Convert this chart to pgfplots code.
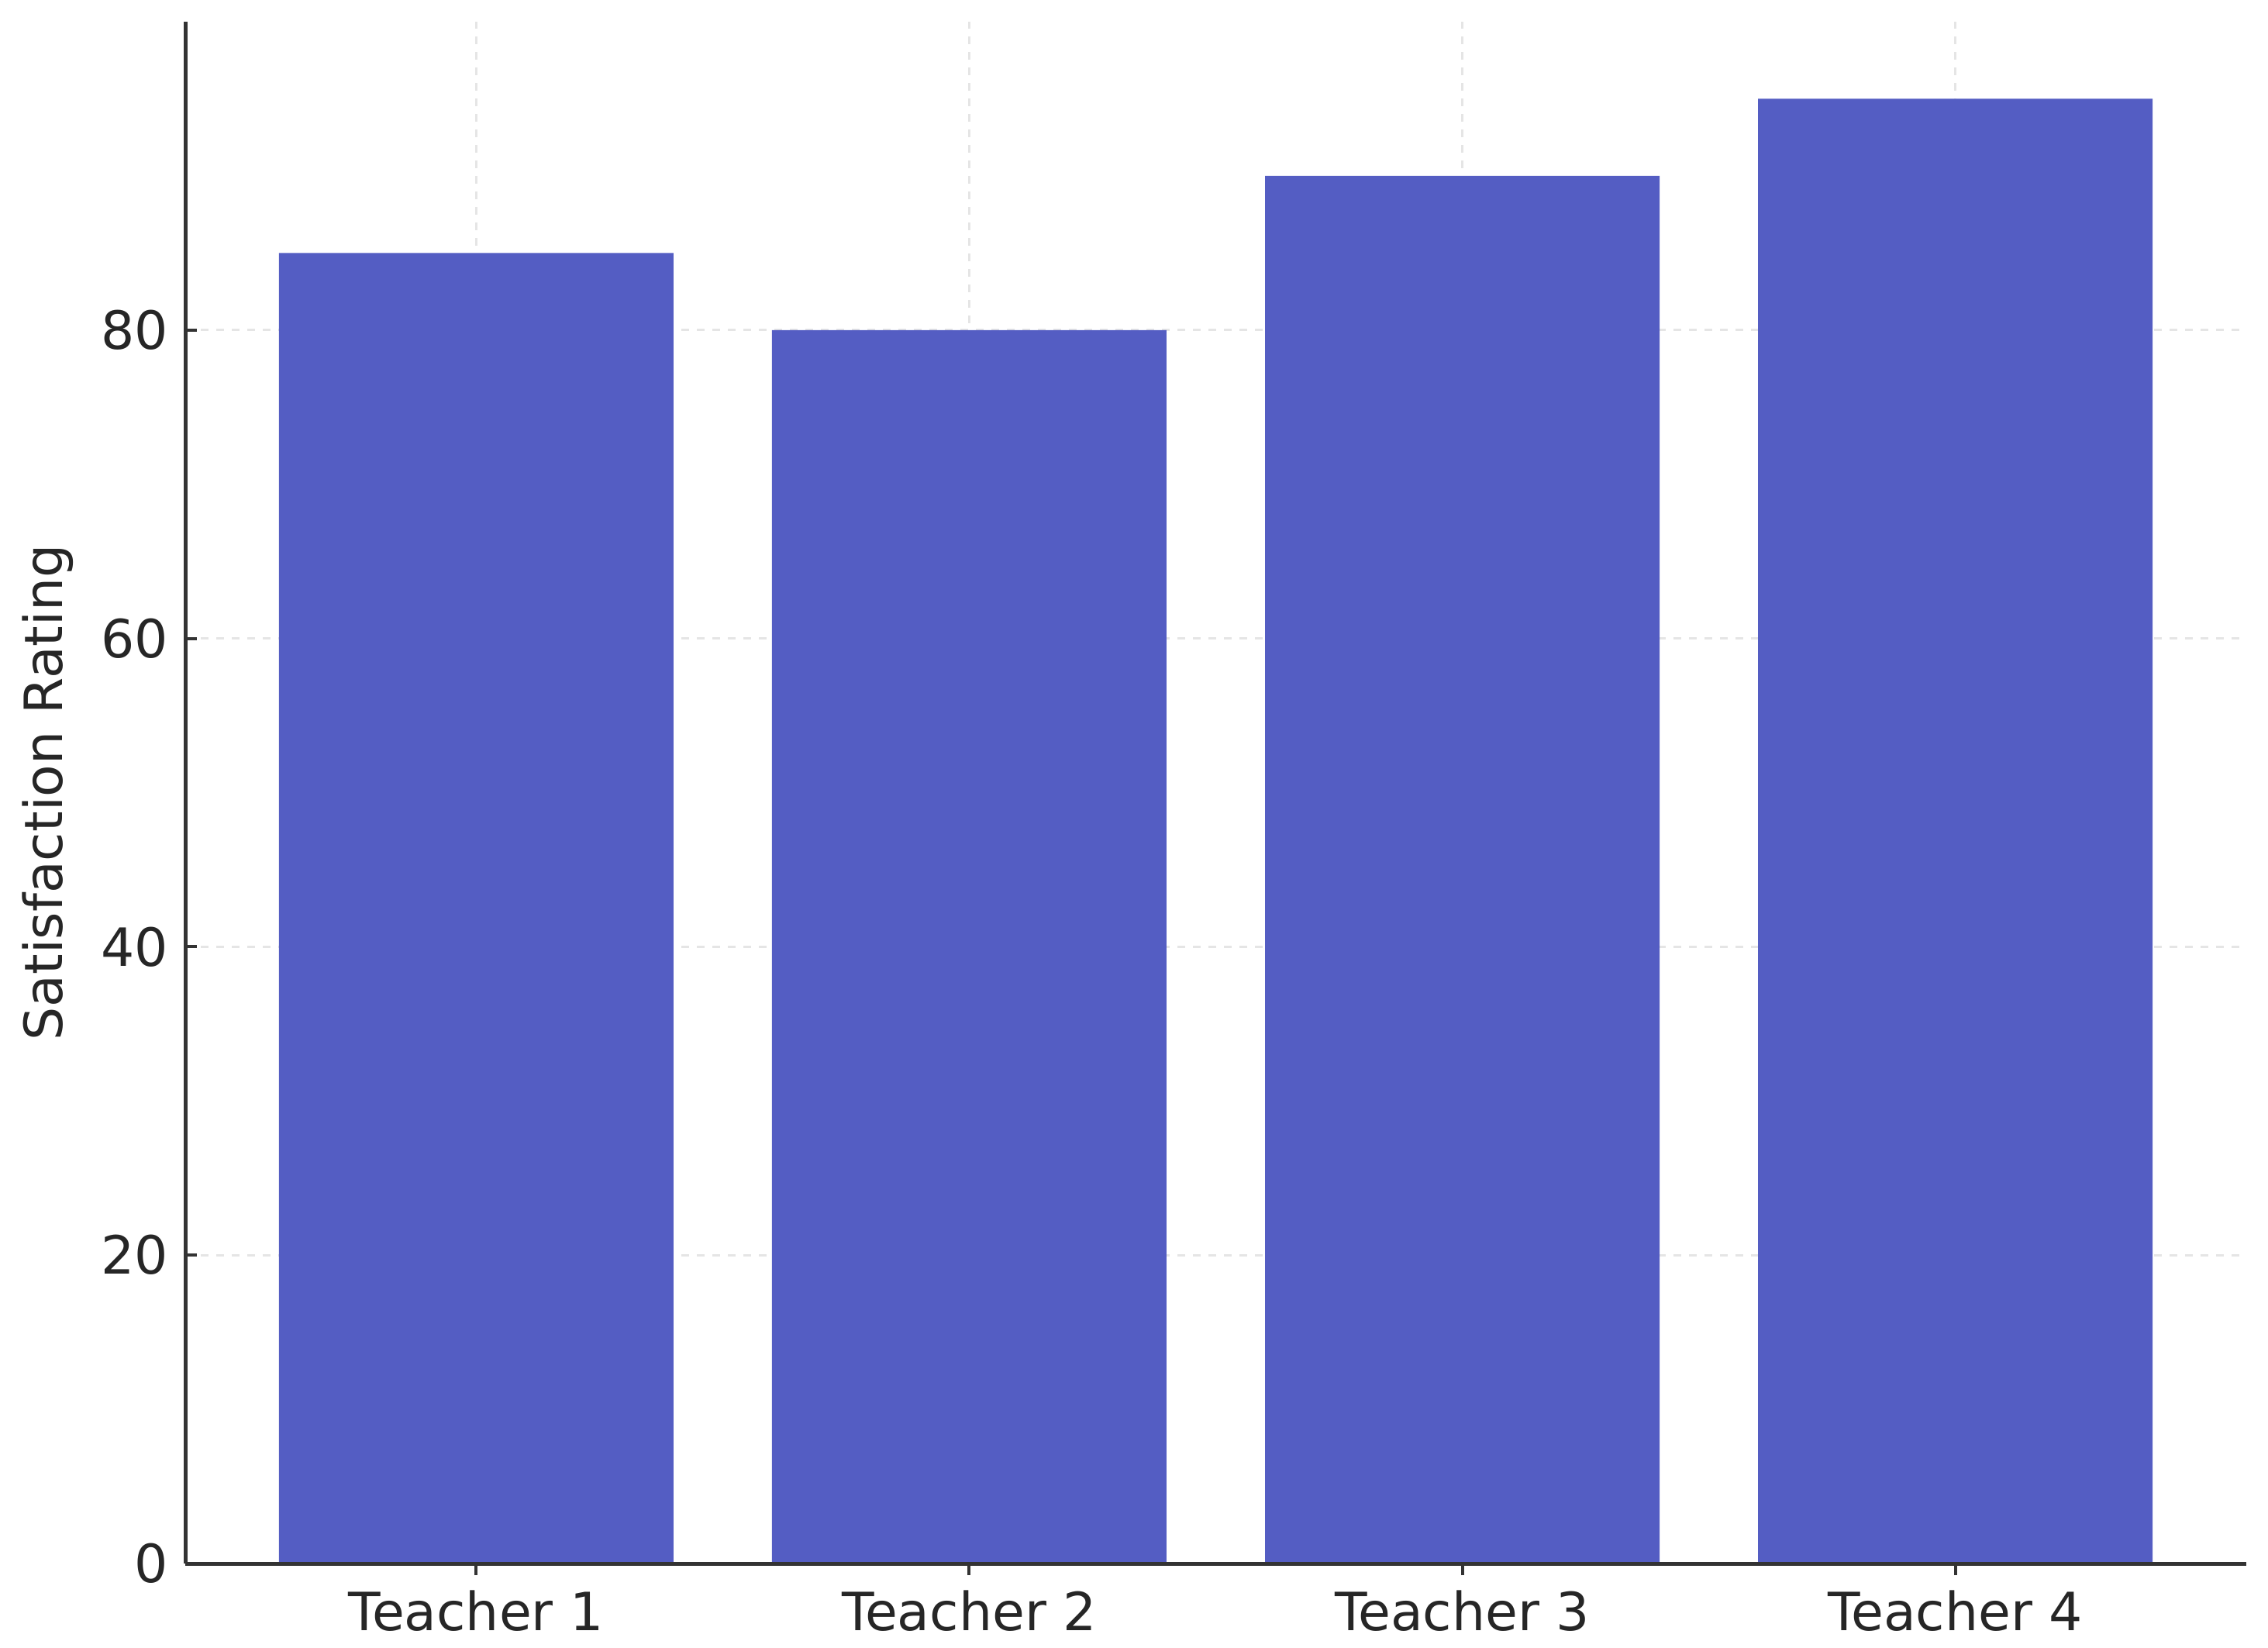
\documentclass[border=0pt]{standalone}
\usepackage{pgfplots}
\pgfplotsset{compat=1.18}
\usepackage{fontspec}
\setmainfont{DejaVu Sans}
\definecolor{barblue}{HTML}{545DC3}
\definecolor{spine}{HTML}{333333}
\begin{document}
\begin{tikzpicture}
\begin{axis}[
  at={(0,0)}, anchor=south west,
  scale only axis, width=265.9pt, height=198.9pt,
  xmin=-0.59, xmax=3.59, ymin=0, ymax=100,
  xtick={0,1,2,3},
  xticklabels={Teacher 1,Teacher 2,Teacher 3,Teacher 4},
  ytick={0,20,40,60,80},
  axis x line*=bottom, axis y line*=left,
  axis line style={spine, line width=0.5pt},
  xtick align=outside, ytick align=inside, major tick length=1.5pt,
  tick style={spine, line width=0.4pt},
  ticklabel style={font=\fontsize{6.8}{8}\selectfont, text=black!85},
  /pgf/number format/assume math mode=true,
  xticklabel style={inner sep=1.8pt},
  yticklabel style={inner sep=2pt},
  grid=major,
  major grid style={dash pattern=on 1pt off 1pt, gray!20, line width=0.3pt, /pgfplots/on layer=axis background},
  set layers, axis on top,
  every axis y label/.style={at={(axis description cs:0,0.5)}, xshift=-17.7pt, rotate=90, anchor=center, font=\fontsize{6.8}{8}\selectfont, text=black!85},
  ylabel={Satisfaction Rating},
  ybar, bar width=0.8,
]
\addplot[fill=barblue, draw=none] coordinates {(0,85) (1,80) (2,90) (3,95)};
\end{axis}
\pgfresetboundingbox
\path (-23.9pt,-10.8pt) rectangle (268.7pt,201.7pt);
\end{tikzpicture}
\end{document}
